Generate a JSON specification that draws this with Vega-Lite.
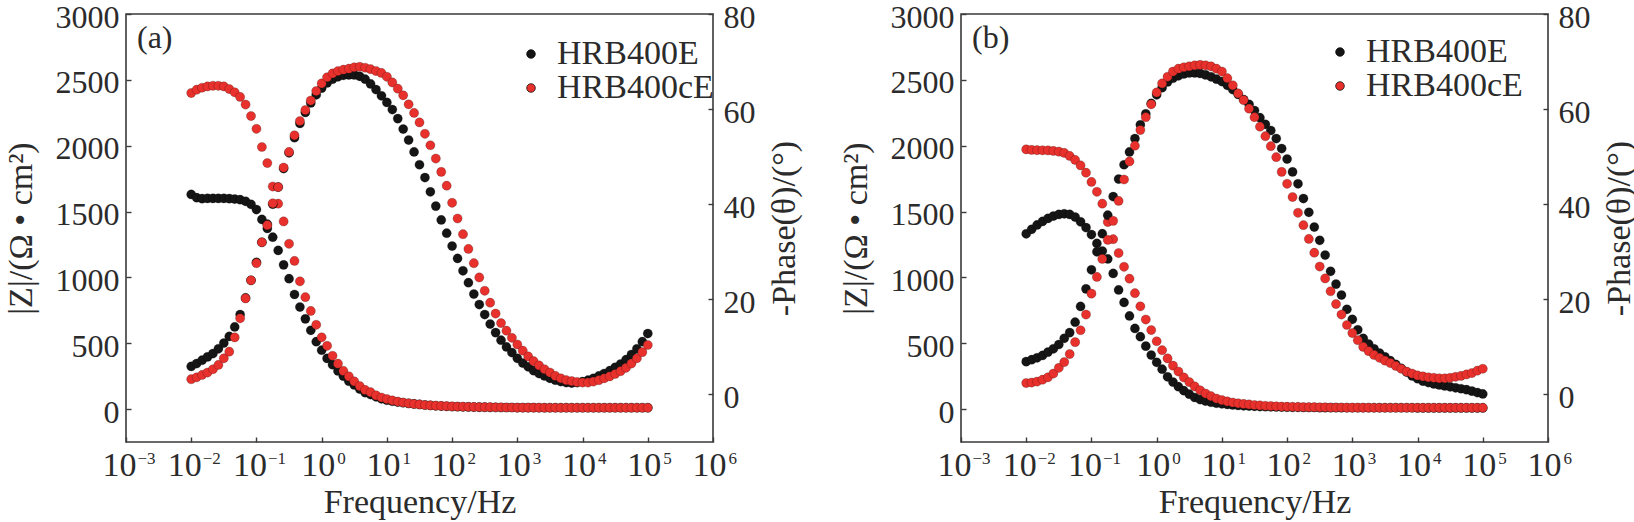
{
  "$schema": "https://vega.github.io/schema/vega-lite/v6.json",
  "padding": {"left": 3, "top": 0, "right": 0, "bottom": 0},
  "bounds": "flush",
  "spacing": 248,
  "datasets": {
    "a": [
      {"s":"HRB400E","f":0.01,"z":1630,"p":5.9},{"s":"HRB400E","f":0.01212,"z":1605,"p":6.5},{"s":"HRB400E","f":0.01468,"z":1598,"p":7.2},{"s":"HRB400E","f":0.01778,"z":1600,"p":7.9},
      {"s":"HRB400E","f":0.02154,"z":1600,"p":8.6},{"s":"HRB400E","f":0.0261,"z":1600,"p":9.6},{"s":"HRB400E","f":0.03162,"z":1600,"p":10.8},{"s":"HRB400E","f":0.03831,"z":1598,"p":12.2},
      {"s":"HRB400E","f":0.04642,"z":1595,"p":14.2},{"s":"HRB400E","f":0.05623,"z":1590,"p":16.8},{"s":"HRB400E","f":0.06813,"z":1578,"p":20.3},{"s":"HRB400E","f":0.08254,"z":1555,"p":24.0},
      {"s":"HRB400E","f":0.1,"z":1515,"p":27.8},{"s":"HRB400E","f":0.1212,"z":1440,"p":32.0},{"s":"HRB400E","f":0.1468,"z":1372,"p":35.8},{"s":"HRB400E","f":0.1778,"z":1305,"p":40.0},
      {"s":"HRB400E","f":0.2154,"z":1205,"p":43.6},{"s":"HRB400E","f":0.261,"z":1095,"p":47.5},{"s":"HRB400E","f":0.3162,"z":990,"p":50.8},{"s":"HRB400E","f":0.3831,"z":870,"p":54.0},
      {"s":"HRB400E","f":0.4642,"z":775,"p":57.0},{"s":"HRB400E","f":0.5623,"z":685,"p":59.3},{"s":"HRB400E","f":0.6813,"z":598,"p":61.3},{"s":"HRB400E","f":0.8254,"z":512,"p":63.0},
      {"s":"HRB400E","f":1,"z":447,"p":64.4},{"s":"HRB400E","f":1.212,"z":385,"p":65.5},{"s":"HRB400E","f":1.468,"z":337,"p":66.3},{"s":"HRB400E","f":1.778,"z":290,"p":66.8},
      {"s":"HRB400E","f":2.154,"z":250,"p":67.1},{"s":"HRB400E","f":2.61,"z":212,"p":67.2},{"s":"HRB400E","f":3.162,"z":183,"p":67.2},{"s":"HRB400E","f":3.831,"z":152,"p":66.9},
      {"s":"HRB400E","f":4.642,"z":125,"p":66.3},{"s":"HRB400E","f":5.623,"z":110,"p":65.3},{"s":"HRB400E","f":6.813,"z":93,"p":64.1},{"s":"HRB400E","f":8.254,"z":78,"p":62.8},
      {"s":"HRB400E","f":10,"z":68,"p":61.4},{"s":"HRB400E","f":12.12,"z":60,"p":59.9},{"s":"HRB400E","f":14.68,"z":53,"p":58.0},{"s":"HRB400E","f":17.78,"z":48,"p":55.8},
      {"s":"HRB400E","f":21.54,"z":43,"p":53.5},{"s":"HRB400E","f":26.1,"z":39,"p":51.0},{"s":"HRB400E","f":31.62,"z":35,"p":48.3},{"s":"HRB400E","f":38.31,"z":31,"p":45.6},
      {"s":"HRB400E","f":46.42,"z":28,"p":42.6},{"s":"HRB400E","f":56.23,"z":25,"p":39.6},{"s":"HRB400E","f":68.13,"z":23,"p":36.7},{"s":"HRB400E","f":82.54,"z":21,"p":33.9},
      {"s":"HRB400E","f":100,"z":19,"p":31.2},{"s":"HRB400E","f":121.2,"z":18,"p":28.6},{"s":"HRB400E","f":146.8,"z":17,"p":26.0},{"s":"HRB400E","f":177.8,"z":16,"p":23.5},
      {"s":"HRB400E","f":215.4,"z":15,"p":21.1},{"s":"HRB400E","f":261,"z":14,"p":18.9},{"s":"HRB400E","f":316.2,"z":14,"p":16.8},{"s":"HRB400E","f":383.1,"z":13,"p":14.8},
      {"s":"HRB400E","f":464.2,"z":13,"p":13.0},{"s":"HRB400E","f":562.3,"z":12,"p":11.4},{"s":"HRB400E","f":681.3,"z":12,"p":10.0},{"s":"HRB400E","f":825.4,"z":12,"p":8.8},
      {"s":"HRB400E","f":1000,"z":11,"p":7.6},{"s":"HRB400E","f":1212,"z":11,"p":6.6},{"s":"HRB400E","f":1468,"z":11,"p":5.8},{"s":"HRB400E","f":1778,"z":11,"p":5.0},
      {"s":"HRB400E","f":2154,"z":10,"p":4.4},{"s":"HRB400E","f":2610,"z":10,"p":3.9},{"s":"HRB400E","f":3162,"z":10,"p":3.4},{"s":"HRB400E","f":3831,"z":10,"p":3.0},
      {"s":"HRB400E","f":4642,"z":10,"p":2.7},{"s":"HRB400E","f":5623,"z":10,"p":2.5},{"s":"HRB400E","f":6813,"z":10,"p":2.4},{"s":"HRB400E","f":8254,"z":10,"p":2.5},
      {"s":"HRB400E","f":10000,"z":10,"p":2.7},{"s":"HRB400E","f":12120,"z":10,"p":3.0},{"s":"HRB400E","f":14680,"z":10,"p":3.4},{"s":"HRB400E","f":17780,"z":10,"p":3.9},
      {"s":"HRB400E","f":21540,"z":10,"p":4.4},{"s":"HRB400E","f":26100,"z":10,"p":5.0},{"s":"HRB400E","f":31620,"z":10,"p":5.7},{"s":"HRB400E","f":38310,"z":10,"p":6.4},
      {"s":"HRB400E","f":46420,"z":10,"p":7.3},{"s":"HRB400E","f":56230,"z":10,"p":8.4},{"s":"HRB400E","f":68130,"z":10,"p":9.6},{"s":"HRB400E","f":82540,"z":10,"p":11.1},
      {"s":"HRB400E","f":100000,"z":10,"p":12.8},
      {"s":"HRB400cE","f":0.01,"z":2400,"p":3.2},{"s":"HRB400cE","f":0.01212,"z":2425,"p":3.6},{"s":"HRB400cE","f":0.01468,"z":2440,"p":4.1},{"s":"HRB400cE","f":0.01778,"z":2450,"p":4.6},
      {"s":"HRB400cE","f":0.02154,"z":2455,"p":5.3},{"s":"HRB400cE","f":0.0261,"z":2455,"p":6.2},{"s":"HRB400cE","f":0.03162,"z":2450,"p":7.6},{"s":"HRB400cE","f":0.03831,"z":2430,"p":9.0},
      {"s":"HRB400cE","f":0.04642,"z":2405,"p":12.0},{"s":"HRB400cE","f":0.05623,"z":2370,"p":16.0},{"s":"HRB400cE","f":0.06813,"z":2312,"p":20.2},{"s":"HRB400cE","f":0.08254,"z":2225,"p":24.0},
      {"s":"HRB400cE","f":0.1,"z":2128,"p":27.6},{"s":"HRB400cE","f":0.1212,"z":1990,"p":32.0},{"s":"HRB400cE","f":0.1468,"z":1868,"p":35.6},{"s":"HRB400cE","f":0.1778,"z":1690,"p":40.2},
      {"s":"HRB400cE","f":0.2154,"z":1560,"p":43.6},{"s":"HRB400cE","f":0.261,"z":1425,"p":47.7},{"s":"HRB400cE","f":0.3162,"z":1255,"p":51.0},{"s":"HRB400cE","f":0.3831,"z":1125,"p":54.5},
      {"s":"HRB400cE","f":0.4642,"z":970,"p":57.5},{"s":"HRB400cE","f":0.5623,"z":850,"p":59.8},{"s":"HRB400cE","f":0.6813,"z":745,"p":61.8},{"s":"HRB400cE","f":0.8254,"z":640,"p":63.8},
      {"s":"HRB400cE","f":1,"z":545,"p":65.4},{"s":"HRB400cE","f":1.212,"z":480,"p":66.7},{"s":"HRB400cE","f":1.468,"z":405,"p":67.5},{"s":"HRB400cE","f":1.778,"z":345,"p":68.0},
      {"s":"HRB400cE","f":2.154,"z":290,"p":68.3},{"s":"HRB400cE","f":2.61,"z":248,"p":68.5},{"s":"HRB400cE","f":3.162,"z":210,"p":68.8},{"s":"HRB400cE","f":3.831,"z":175,"p":68.9},
      {"s":"HRB400cE","f":4.642,"z":145,"p":68.7},{"s":"HRB400cE","f":5.623,"z":128,"p":68.4},{"s":"HRB400cE","f":6.813,"z":104,"p":68.0},{"s":"HRB400cE","f":8.254,"z":88,"p":67.6},
      {"s":"HRB400cE","f":10,"z":76,"p":66.8},{"s":"HRB400cE","f":12.12,"z":66,"p":65.6},{"s":"HRB400cE","f":14.68,"z":57,"p":64.3},{"s":"HRB400cE","f":17.78,"z":50,"p":62.9},
      {"s":"HRB400cE","f":21.54,"z":44,"p":61.0},{"s":"HRB400cE","f":26.1,"z":39,"p":59.2},{"s":"HRB400cE","f":31.62,"z":35,"p":57.2},{"s":"HRB400cE","f":38.31,"z":31,"p":54.8},
      {"s":"HRB400cE","f":46.42,"z":28,"p":52.4},{"s":"HRB400cE","f":56.23,"z":26,"p":49.6},{"s":"HRB400cE","f":68.13,"z":24,"p":46.8},{"s":"HRB400cE","f":82.54,"z":22,"p":43.9},
      {"s":"HRB400cE","f":100,"z":20,"p":40.3},{"s":"HRB400cE","f":121.2,"z":19,"p":37.0},{"s":"HRB400cE","f":146.8,"z":18,"p":33.7},{"s":"HRB400cE","f":177.8,"z":17,"p":30.6},
      {"s":"HRB400cE","f":215.4,"z":16,"p":27.6},{"s":"HRB400cE","f":261,"z":15,"p":24.6},{"s":"HRB400cE","f":316.2,"z":14,"p":21.8},{"s":"HRB400cE","f":383.1,"z":14,"p":19.3},
      {"s":"HRB400cE","f":464.2,"z":13,"p":17.0},{"s":"HRB400cE","f":562.3,"z":13,"p":15.0},{"s":"HRB400cE","f":681.3,"z":12,"p":13.4},{"s":"HRB400cE","f":825.4,"z":12,"p":11.9},
      {"s":"HRB400cE","f":1000,"z":11,"p":10.5},{"s":"HRB400cE","f":1212,"z":11,"p":9.2},{"s":"HRB400cE","f":1468,"z":11,"p":8.0},{"s":"HRB400cE","f":1778,"z":11,"p":7.0},
      {"s":"HRB400cE","f":2154,"z":11,"p":6.1},{"s":"HRB400cE","f":2610,"z":10,"p":5.3},{"s":"HRB400cE","f":3162,"z":10,"p":4.6},{"s":"HRB400cE","f":3831,"z":10,"p":3.9},
      {"s":"HRB400cE","f":4642,"z":10,"p":3.4},{"s":"HRB400cE","f":5623,"z":10,"p":3.0},{"s":"HRB400cE","f":6813,"z":10,"p":2.8},{"s":"HRB400cE","f":8254,"z":10,"p":2.6},
      {"s":"HRB400cE","f":10000,"z":10,"p":2.5},{"s":"HRB400cE","f":12120,"z":10,"p":2.5},{"s":"HRB400cE","f":14680,"z":10,"p":2.7},{"s":"HRB400cE","f":17780,"z":10,"p":3.0},
      {"s":"HRB400cE","f":21540,"z":10,"p":3.4},{"s":"HRB400cE","f":26100,"z":10,"p":3.8},{"s":"HRB400cE","f":31620,"z":10,"p":4.3},{"s":"HRB400cE","f":38310,"z":10,"p":4.9},
      {"s":"HRB400cE","f":46420,"z":10,"p":5.6},{"s":"HRB400cE","f":56230,"z":10,"p":6.5},{"s":"HRB400cE","f":68130,"z":10,"p":7.6},{"s":"HRB400cE","f":82540,"z":10,"p":8.9},
      {"s":"HRB400cE","f":100000,"z":10,"p":10.4}
    ],
    "b": [
      {"s":"HRB400E","f":0.01,"z":1331,"p":6.9},{"s":"HRB400E","f":0.01212,"z":1365,"p":7.3},{"s":"HRB400E","f":0.01468,"z":1398,"p":7.7},{"s":"HRB400E","f":0.01778,"z":1425,"p":8.2},
      {"s":"HRB400E","f":0.02154,"z":1448,"p":8.9},{"s":"HRB400E","f":0.0261,"z":1466,"p":9.6},{"s":"HRB400E","f":0.03162,"z":1478,"p":10.5},{"s":"HRB400E","f":0.03831,"z":1483,"p":11.8},
      {"s":"HRB400E","f":0.04642,"z":1478,"p":13.0},{"s":"HRB400E","f":0.05623,"z":1458,"p":15.2},{"s":"HRB400E","f":0.06813,"z":1422,"p":18.5},{"s":"HRB400E","f":0.08254,"z":1378,"p":22.2},
      {"s":"HRB400E","f":0.1,"z":1325,"p":26.2},{"s":"HRB400E","f":0.1212,"z":1258,"p":30.0},{"s":"HRB400E","f":0.1468,"z":1200,"p":33.8},{"s":"HRB400E","f":0.1778,"z":1140,"p":37.7},
      {"s":"HRB400E","f":0.2154,"z":1030,"p":41.6},{"s":"HRB400E","f":0.261,"z":905,"p":45.3},{"s":"HRB400E","f":0.3162,"z":810,"p":48.3},{"s":"HRB400E","f":0.3831,"z":707,"p":51.0},
      {"s":"HRB400E","f":0.4642,"z":612,"p":53.8},{"s":"HRB400E","f":0.5623,"z":550,"p":56.7},{"s":"HRB400E","f":0.6813,"z":478,"p":59.0},{"s":"HRB400E","f":0.8254,"z":410,"p":61.2},
      {"s":"HRB400E","f":1,"z":355,"p":63.0},{"s":"HRB400E","f":1.212,"z":303,"p":64.5},{"s":"HRB400E","f":1.468,"z":245,"p":65.7},{"s":"HRB400E","f":1.778,"z":205,"p":66.5},
      {"s":"HRB400E","f":2.154,"z":170,"p":67.0},{"s":"HRB400E","f":2.61,"z":140,"p":67.4},{"s":"HRB400E","f":3.162,"z":113,"p":67.6},{"s":"HRB400E","f":3.831,"z":88,"p":67.6},
      {"s":"HRB400E","f":4.642,"z":72,"p":67.5},{"s":"HRB400E","f":5.623,"z":61,"p":67.2},{"s":"HRB400E","f":6.813,"z":52,"p":66.8},{"s":"HRB400E","f":8.254,"z":45,"p":66.3},
      {"s":"HRB400E","f":10,"z":40,"p":65.8},{"s":"HRB400E","f":12.12,"z":35,"p":65.0},{"s":"HRB400E","f":14.68,"z":31,"p":64.1},{"s":"HRB400E","f":17.78,"z":28,"p":63.1},
      {"s":"HRB400E","f":21.54,"z":25,"p":62.0},{"s":"HRB400E","f":26.1,"z":23,"p":61.0},{"s":"HRB400E","f":31.62,"z":21,"p":59.7},{"s":"HRB400E","f":38.31,"z":19,"p":58.2},
      {"s":"HRB400E","f":46.42,"z":18,"p":56.8},{"s":"HRB400E","f":56.23,"z":17,"p":55.5},{"s":"HRB400E","f":68.13,"z":16,"p":53.8},{"s":"HRB400E","f":82.54,"z":15,"p":51.7},
      {"s":"HRB400E","f":100,"z":14,"p":49.5},{"s":"HRB400E","f":121.2,"z":13,"p":46.8},{"s":"HRB400E","f":146.8,"z":13,"p":44.3},{"s":"HRB400E","f":177.8,"z":12,"p":41.2},
      {"s":"HRB400E","f":215.4,"z":12,"p":38.3},{"s":"HRB400E","f":261,"z":12,"p":35.2},{"s":"HRB400E","f":316.2,"z":11,"p":32.4},{"s":"HRB400E","f":383.1,"z":11,"p":29.3},
      {"s":"HRB400E","f":464.2,"z":11,"p":25.9},{"s":"HRB400E","f":562.3,"z":11,"p":23.2},{"s":"HRB400E","f":681.3,"z":10,"p":20.9},{"s":"HRB400E","f":825.4,"z":10,"p":17.9},
      {"s":"HRB400E","f":1000,"z":10,"p":15.8},{"s":"HRB400E","f":1212,"z":10,"p":13.6},{"s":"HRB400E","f":1468,"z":10,"p":11.8},{"s":"HRB400E","f":1778,"z":10,"p":10.6},
      {"s":"HRB400E","f":2154,"z":10,"p":9.6},{"s":"HRB400E","f":2610,"z":10,"p":8.7},{"s":"HRB400E","f":3162,"z":10,"p":7.9},{"s":"HRB400E","f":3831,"z":10,"p":7.1},
      {"s":"HRB400E","f":4642,"z":10,"p":6.3},{"s":"HRB400E","f":5623,"z":10,"p":5.5},{"s":"HRB400E","f":6813,"z":10,"p":4.7},{"s":"HRB400E","f":8254,"z":10,"p":3.9},
      {"s":"HRB400E","f":10000,"z":9,"p":3.3},{"s":"HRB400E","f":12120,"z":9,"p":2.8},{"s":"HRB400E","f":14680,"z":9,"p":2.5},{"s":"HRB400E","f":17780,"z":9,"p":2.2},
      {"s":"HRB400E","f":21540,"z":9,"p":2.0},{"s":"HRB400E","f":26100,"z":9,"p":1.8},{"s":"HRB400E","f":31620,"z":9,"p":1.6},{"s":"HRB400E","f":38310,"z":9,"p":1.4},
      {"s":"HRB400E","f":46420,"z":9,"p":1.2},{"s":"HRB400E","f":56230,"z":9,"p":1.0},{"s":"HRB400E","f":68130,"z":9,"p":0.7},{"s":"HRB400E","f":82540,"z":9,"p":0.4},
      {"s":"HRB400E","f":100000,"z":9,"p":0.1},
      {"s":"HRB400cE","f":0.01,"z":1972,"p":2.4},{"s":"HRB400cE","f":0.01212,"z":1968,"p":2.5},{"s":"HRB400cE","f":0.01468,"z":1966,"p":2.7},{"s":"HRB400cE","f":0.01778,"z":1965,"p":3.1},
      {"s":"HRB400cE","f":0.02154,"z":1964,"p":3.6},{"s":"HRB400cE","f":0.0261,"z":1960,"p":4.4},{"s":"HRB400cE","f":0.03162,"z":1955,"p":5.6},{"s":"HRB400cE","f":0.03831,"z":1945,"p":6.8},
      {"s":"HRB400cE","f":0.04642,"z":1922,"p":8.5},{"s":"HRB400cE","f":0.05623,"z":1892,"p":11.0},{"s":"HRB400cE","f":0.06813,"z":1850,"p":13.5},{"s":"HRB400cE","f":0.08254,"z":1795,"p":16.8},
      {"s":"HRB400cE","f":0.1,"z":1725,"p":21.2},{"s":"HRB400cE","f":0.1212,"z":1650,"p":24.7},{"s":"HRB400cE","f":0.1468,"z":1560,"p":28.5},{"s":"HRB400cE","f":0.1778,"z":1420,"p":32.5},
      {"s":"HRB400cE","f":0.2154,"z":1290,"p":36.5},{"s":"HRB400cE","f":0.261,"z":1185,"p":40.7},{"s":"HRB400cE","f":0.3162,"z":1080,"p":45.2},{"s":"HRB400cE","f":0.3831,"z":990,"p":49.0},
      {"s":"HRB400cE","f":0.4642,"z":880,"p":52.3},{"s":"HRB400cE","f":0.5623,"z":780,"p":55.6},{"s":"HRB400cE","f":0.6813,"z":680,"p":58.3},{"s":"HRB400cE","f":0.8254,"z":600,"p":61.0},
      {"s":"HRB400cE","f":1,"z":515,"p":63.5},{"s":"HRB400cE","f":1.212,"z":447,"p":65.4},{"s":"HRB400cE","f":1.468,"z":385,"p":66.8},{"s":"HRB400cE","f":1.778,"z":330,"p":67.9},
      {"s":"HRB400cE","f":2.154,"z":285,"p":68.5},{"s":"HRB400cE","f":2.61,"z":240,"p":68.8},{"s":"HRB400cE","f":3.162,"z":205,"p":69.0},{"s":"HRB400cE","f":3.831,"z":172,"p":69.2},
      {"s":"HRB400cE","f":4.642,"z":143,"p":69.3},{"s":"HRB400cE","f":5.623,"z":118,"p":69.2},{"s":"HRB400cE","f":6.813,"z":98,"p":69.0},{"s":"HRB400cE","f":8.254,"z":80,"p":68.5},
      {"s":"HRB400cE","f":10,"z":68,"p":67.9},{"s":"HRB400cE","f":12.12,"z":58,"p":66.5},{"s":"HRB400cE","f":14.68,"z":50,"p":65.0},{"s":"HRB400cE","f":17.78,"z":44,"p":63.3},
      {"s":"HRB400cE","f":21.54,"z":39,"p":61.9},{"s":"HRB400cE","f":26.1,"z":35,"p":60.1},{"s":"HRB400cE","f":31.62,"z":31,"p":58.3},{"s":"HRB400cE","f":38.31,"z":28,"p":56.3},
      {"s":"HRB400cE","f":46.42,"z":25,"p":54.3},{"s":"HRB400cE","f":56.23,"z":23,"p":52.2},{"s":"HRB400cE","f":68.13,"z":21,"p":49.9},{"s":"HRB400cE","f":82.54,"z":19,"p":46.8},
      {"s":"HRB400cE","f":100,"z":18,"p":44.3},{"s":"HRB400cE","f":121.2,"z":17,"p":41.5},{"s":"HRB400cE","f":146.8,"z":16,"p":38.2},{"s":"HRB400cE","f":177.8,"z":15,"p":35.6},
      {"s":"HRB400cE","f":215.4,"z":14,"p":32.7},{"s":"HRB400cE","f":261,"z":14,"p":29.8},{"s":"HRB400cE","f":316.2,"z":13,"p":26.9},{"s":"HRB400cE","f":383.1,"z":13,"p":24.4},
      {"s":"HRB400cE","f":464.2,"z":12,"p":21.7},{"s":"HRB400cE","f":562.3,"z":12,"p":19.0},{"s":"HRB400cE","f":681.3,"z":12,"p":16.8},{"s":"HRB400cE","f":825.4,"z":11,"p":14.6},
      {"s":"HRB400cE","f":1000,"z":11,"p":12.9},{"s":"HRB400cE","f":1212,"z":11,"p":11.4},{"s":"HRB400cE","f":1468,"z":11,"p":10.0},{"s":"HRB400cE","f":1778,"z":11,"p":9.1},
      {"s":"HRB400cE","f":2154,"z":10,"p":8.3},{"s":"HRB400cE","f":2610,"z":10,"p":7.7},{"s":"HRB400cE","f":3162,"z":10,"p":7.1},{"s":"HRB400cE","f":3831,"z":10,"p":6.6},
      {"s":"HRB400cE","f":4642,"z":10,"p":6.0},{"s":"HRB400cE","f":5623,"z":10,"p":5.4},{"s":"HRB400cE","f":6813,"z":10,"p":4.8},{"s":"HRB400cE","f":8254,"z":10,"p":4.4},
      {"s":"HRB400cE","f":10000,"z":10,"p":4.0},{"s":"HRB400cE","f":12120,"z":10,"p":3.8},{"s":"HRB400cE","f":14680,"z":10,"p":3.6},{"s":"HRB400cE","f":17780,"z":10,"p":3.5},
      {"s":"HRB400cE","f":21540,"z":10,"p":3.4},{"s":"HRB400cE","f":26100,"z":10,"p":3.4},{"s":"HRB400cE","f":31620,"z":10,"p":3.5},{"s":"HRB400cE","f":38310,"z":10,"p":3.7},
      {"s":"HRB400cE","f":46420,"z":10,"p":3.9},{"s":"HRB400cE","f":56230,"z":10,"p":4.2},{"s":"HRB400cE","f":68130,"z":10,"p":4.5},{"s":"HRB400cE","f":82540,"z":10,"p":5.0},
      {"s":"HRB400cE","f":100000,"z":10,"p":5.4}
    ]
  },
  "hconcat": [
    {
      "width": 587,
      "height": 428,
      "data": {"name": "a"},
      "title": {"text": "(a)", "anchor": "start", "frame": "group", "baseline": "top", "offset": -54, "dx": 11},
      "encoding": {
        "color": {
          "field": "s",
          "type": "nominal",
          "scale": {"domain": ["HRB400E", "HRB400cE"], "range": ["#151515", "#e8312c"]},
          "legend": {"orient": "none", "legendX": 388, "legendY": 23}
        },
        "order": {"field": "s"}
      },
      "layer": [
        {
          "mark": {"type": "circle", "size": 85, "opacity": 1, "stroke": "#000000", "strokeOpacity": 0.3, "strokeWidth": 0.7},
          "encoding": {
            "x": {
              "field": "f",
              "type": "quantitative",
              "scale": {"type": "log", "domain": [0.001, 1000000]},
              "axis": {
                "title": "Frequency/Hz",
                "values": [0.001, 0.01, 0.1, 1, 10, 100, 1000, 10000, 100000, 1000000],
                "labelExpr": "'10'",
                "labelFontSize": 34,
                "labelFlush": false,
                "labelOffset": {"condition": {"test": "datum.value < 0.5", "value": -7}, "value": -4},
                "labelPadding": 11,
                "titlePadding": 3
              }
            },
            "y": {
              "field": "z",
              "type": "quantitative",
              "scale": {"domain": [-250, 3000], "nice": false, "zero": false},
              "axis": {"orient": "left", "title": "|Z|/(Ω • cm²)", "values": [0, 500, 1000, 1500, 2000, 2500, 3000], "format": "d", "labelOffset": 3, "labelPadding": 12, "minExtent": 76, "maxExtent": 76, "titlePadding": 12}
            }
          }
        },
        {
          "mark": {"type": "circle", "size": 85, "opacity": 1, "stroke": "#000000", "strokeOpacity": 0.3, "strokeWidth": 0.7},
          "encoding": {
            "x": {
              "field": "f",
              "type": "quantitative",
              "scale": {"type": "log", "domain": [0.001, 1000000]},
              "axis": {
                "orient": "top",
                "offset": -453,
                "title": null,
                "domain": false,
                "ticks": false,
                "values": [0.001, 0.01, 0.1, 1, 10, 100, 1000, 10000, 100000, 1000000],
                "labelExpr": "format(round(log(datum.value)/LN10), 'd')",
                "labelFontSize": 17,
                "labelFlush": false,
                "labelAlign": "left",
                "labelBaseline": "bottom",
                "labelPadding": 0,
                "labelOffset": {"condition": {"test": "datum.value < 0.5", "value": 11}, "value": 15}
              }
            },
            "y": {
              "field": "p",
              "type": "quantitative",
              "scale": {"domain": [-10, 80], "nice": false, "zero": false},
              "axis": {"orient": "right", "title": "-Phase(θ)/(°)", "values": [0, 20, 40, 60, 80], "labelOffset": 3, "labelPadding": 15, "minExtent": 42, "maxExtent": 42, "titlePadding": 12, "titleAngle": 270, "titleBaseline": "top"}
            }
          }
        }
      ],
      "resolve": {"scale": {"y": "independent"}, "axis": {"x": "independent"}}
    },
    {
      "width": 587,
      "height": 428,
      "data": {"name": "b"},
      "title": {"text": "(b)", "anchor": "start", "frame": "group", "baseline": "top", "offset": -54, "dx": 11},
      "encoding": {
        "color": {
          "field": "s",
          "type": "nominal",
          "scale": {"domain": ["HRB400E", "HRB400cE"], "range": ["#151515", "#e8312c"]},
          "legend": {"orient": "none", "legendX": 362, "legendY": 21}
        },
        "order": {"field": "s"}
      },
      "layer": [
        {
          "mark": {"type": "circle", "size": 85, "opacity": 1, "stroke": "#000000", "strokeOpacity": 0.3, "strokeWidth": 0.7},
          "encoding": {
            "x": {
              "field": "f",
              "type": "quantitative",
              "scale": {"type": "log", "domain": [0.001, 1000000]},
              "axis": {
                "title": "Frequency/Hz",
                "values": [0.001, 0.01, 0.1, 1, 10, 100, 1000, 10000, 100000, 1000000],
                "labelExpr": "'10'",
                "labelFontSize": 34,
                "labelFlush": false,
                "labelOffset": {"condition": {"test": "datum.value < 0.5", "value": -7}, "value": -4},
                "labelPadding": 11,
                "titlePadding": 3
              }
            },
            "y": {
              "field": "z",
              "type": "quantitative",
              "scale": {"domain": [-250, 3000], "nice": false, "zero": false},
              "axis": {"orient": "left", "title": "|Z|/(Ω • cm²)", "values": [0, 500, 1000, 1500, 2000, 2500, 3000], "format": "d", "labelOffset": 3, "labelPadding": 12, "minExtent": 76, "maxExtent": 76, "titlePadding": 12}
            }
          }
        },
        {
          "mark": {"type": "circle", "size": 85, "opacity": 1, "stroke": "#000000", "strokeOpacity": 0.3, "strokeWidth": 0.7},
          "encoding": {
            "x": {
              "field": "f",
              "type": "quantitative",
              "scale": {"type": "log", "domain": [0.001, 1000000]},
              "axis": {
                "orient": "top",
                "offset": -453,
                "title": null,
                "domain": false,
                "ticks": false,
                "values": [0.001, 0.01, 0.1, 1, 10, 100, 1000, 10000, 100000, 1000000],
                "labelExpr": "format(round(log(datum.value)/LN10), 'd')",
                "labelFontSize": 17,
                "labelFlush": false,
                "labelAlign": "left",
                "labelBaseline": "bottom",
                "labelPadding": 0,
                "labelOffset": {"condition": {"test": "datum.value < 0.5", "value": 11}, "value": 15}
              }
            },
            "y": {
              "field": "p",
              "type": "quantitative",
              "scale": {"domain": [-10, 80], "nice": false, "zero": false},
              "axis": {"orient": "right", "title": "-Phase(θ)/(°)", "values": [0, 20, 40, 60, 80], "labelOffset": 3, "labelPadding": 15, "minExtent": 42, "maxExtent": 42, "titlePadding": 12, "titleAngle": 270, "titleBaseline": "top"}
            }
          }
        }
      ],
      "resolve": {"scale": {"y": "independent"}, "axis": {"x": "independent"}}
    }
  ],
  "resolve": {"scale": {"color": "independent"}},
  "config": {
    "background": "#ffffff",
    "font": "Liberation Serif",
    "view": {"stroke": "#3a3a3a", "strokeWidth": 1.6},
    "axis": {
      "grid": false,
      "domain": false,
      "ticks": true,
      "tickSize": -5,
      "tickWidth": 1.4,
      "tickColor": "#3a3a3a",
      "labelFont": "Liberation Serif",
      "labelFontSize": 32,
      "labelColor": "#2b2b2b",
      "labelOverlap": false,
      "titleFont": "Liberation Serif",
      "titleFontSize": 34,
      "titleFontWeight": "normal",
      "titleColor": "#2b2b2b"
    },
    "legend": {
      "title": null,
      "labelFont": "Liberation Serif",
      "labelFontSize": 34,
      "labelColor": "#2b2b2b",
      "symbolType": "circle",
      "symbolSize": 75,
      "symbolStrokeWidth": 0.7,
      "rowPadding": 0,
      "labelOffset": 9,
      "padding": 0
    },
    "title": {
      "font": "Liberation Serif",
      "fontSize": 32,
      "fontWeight": "normal",
      "color": "#2b2b2b"
    }
  }
}
